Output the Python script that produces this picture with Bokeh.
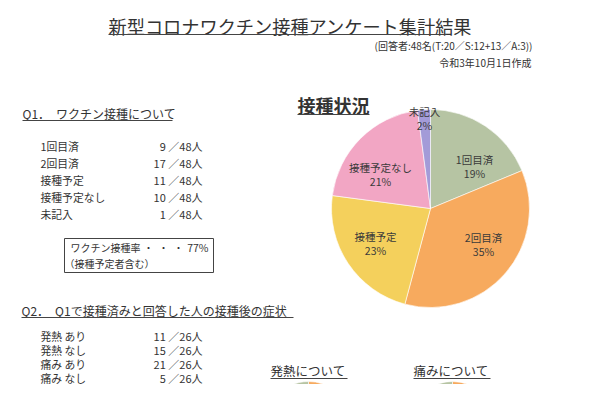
import math
from bokeh.plotting import figure
from bokeh.models import Range1d, ColumnDataSource
from bokeh.core.properties import value
from bokeh.embed import file_html
from bokeh.resources import INLINE

# ---- data ----
title = "新型コロナワクチン接種アンケート集計結果"
subtitle = "(回答者:48名(T:20／S:12+13／A:3))"
date_text = "令和3年10月1日作成"
total = 48
q1_heading = "Q1．　ワクチン接種について"
q1_labels = ["1回目済", "2回目済", "接種予定", "接種予定なし", "未記入"]
q1_counts = [9, 17, 11, 10, 1]
q1_colors = ["#b6c4a3", "#f7aa5e", "#f4d05c", "#f2a6c4", "#a39bd8"]
rate_label = "ワクチン接種率"
rate_dots = ["・", "・", "・"]
rate_value = "77%"
rate_note = "（接種予定者含む）"
pie_title = "接種状況"

q2_heading = "Q2．　Q1で接種済みと回答した人の接種後の症状"
q2_total = 26
q2_labels = ["発熱 あり", "発熱 なし", "痛み あり", "痛み なし"]
q2_counts = [11, 15, 21, 5]
fever_title = "発熱について"
pain_title = "痛みについて"
small_colors = ["#f7aa5e", "#b6c4a3"]

FONT = value("Noto Sans CJK JP")
INK = "#333333"

p = figure(width=584, height=384, output_backend="svg", toolbar_location=None,
           x_range=Range1d(0, 584), y_range=Range1d(16, 400), min_border=0)
p.axis.visible = False
p.grid.visible = False
p.outline_line_color = None
p.background_fill_color = "white"

def Y(v):
    return 400 - v

def txt(x, y, s, size, align="left", bold=False, color=INK):
    p.text(x=[x], y=[Y(y)], text=[s], text_font=FONT, text_font_size=size,
           text_align=align, text_baseline="middle", text_color=color,
           text_font_style="bold" if bold else "normal")

def uline(x0, x1, y, w=1.0):
    p.segment(x0=[x0], y0=[Y(y)], x1=[x1], y1=[Y(y)], line_color="#444444", line_width=w)

# header
txt(108, 25, title, "18.2px")
uline(108, 446, 34, 1.2)
txt(532, 45, subtitle, "10px", align="right")
txt(531, 62, date_text, "10px", align="right")

# Q1 block
txt(22, 113, q1_heading, "12px")
uline(22, 172, 120)
rows_y = [145, 162, 179, 196, 213]
for lab, c, yy in zip(q1_labels, q1_counts, rows_y):
    txt(40, yy, lab, "10.8px")
    txt(202, yy, f"{c} ／{total}人", "11px", align="right")

p.quad(left=[64], right=[213], top=[Y(238)], bottom=[Y(272)], fill_color=None,
       line_color="#444444", line_width=1)
txt(70, 247, rate_label, "10px")
for dx, d in zip([148, 163, 178], rate_dots):
    txt(dx, 247, d, "10px", align="center")
txt(208, 247, rate_value, "10.5px", align="right")
txt(64, 263, rate_note, "10px")

# main pie
cx, cy, r = 430, 208, 99
starts, ends = [], []
prev = 0.0
for c in q1_counts:
    # clockwise from 12 o'clock
    ends.append(math.pi / 2 - 2 * math.pi * prev / total)
    starts.append(math.pi / 2 - 2 * math.pi * (prev + c) / total)
    prev += c
src = ColumnDataSource(dict(start=starts, end=ends, color=q1_colors))
p.wedge(x=cx, y=Y(cy), radius=r, start_angle="start", end_angle="end",
        fill_color="color", line_color="white", line_width=0.6, source=src)

txt(297, 104, pie_title, "18px", bold=True)
uline(297, 369, 114, 1.2)

label_pos = [(474, 159), (483, 237), (375, 236), (380, 167), (424, 111)]
for lab, c, (lx, ly) in zip(q1_labels, q1_counts, label_pos):
    pct = round(100 * c / total)
    txt(lx, ly, lab, "10.5px", align="center", color="#3a3a3a")
    txt(lx, ly + 14, f"{pct}%", "10.5px", align="center", color="#3a3a3a")

# Q2 block (slightly compressed to stay inside the frame)
txt(21, 310, q2_heading, "12px")
uline(21, 293, 317)
rows2_y = [335, 349, 363, 377]
for lab, c, yy in zip(q2_labels, q2_counts, rows2_y):
    txt(40, yy, lab, "10.8px")
    txt(202, yy, f"{c} ／{q2_total}人", "11px", align="right")

txt(270, 370, fever_title, "12.5px")
uline(270, 347, 378)
txt(413, 370, pain_title, "12.5px")
uline(413, 490, 378)

# small pies (only tops visible)
for (sx, pair) in [(308, q2_counts[0:2]), (452, q2_counts[2:4])]:
    tot = sum(pair)
    st, en = [], []
    prev = 0
    for c in pair:
        en.append(math.pi / 2 - 2 * math.pi * prev / tot)
        st.append(math.pi / 2 - 2 * math.pi * (prev + c) / tot)
        prev += c
    s2 = ColumnDataSource(dict(start=st, end=en, color=small_colors))
    p.wedge(x=sx, y=Y(381 + 42), radius=42, start_angle="start", end_angle="end",
            fill_color="color", line_color="white", line_width=0.6, source=s2)

open("out.html", "w").write(file_html(p, INLINE))
